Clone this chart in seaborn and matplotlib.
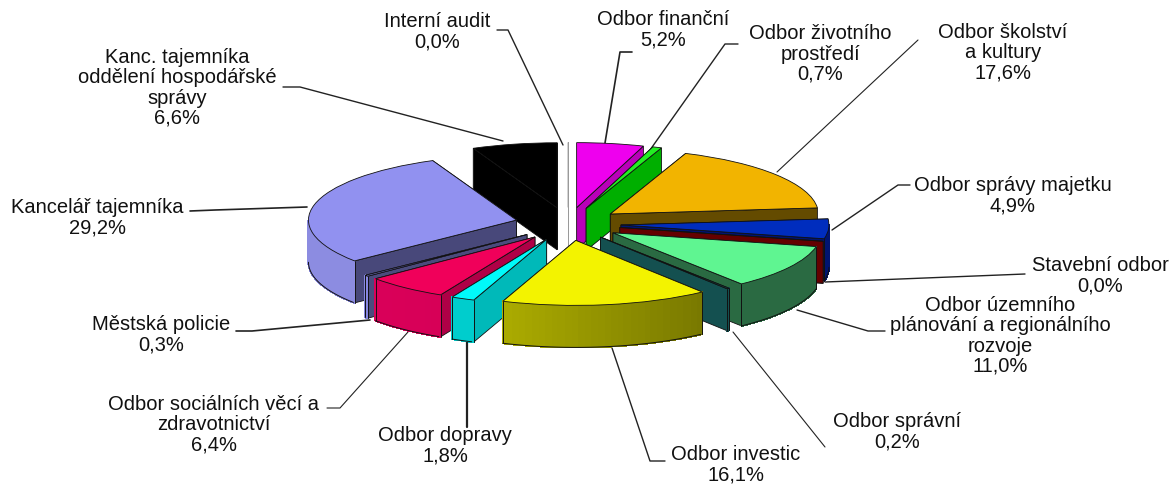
from matplotlib import pyplot as plt
from matplotlib import transforms
import numpy as np
import seaborn as sns

sns.set_theme(style='white')
plt.rcParams['font.family'] = ['Liberation Sans', 'DejaVu Sans']

W, H = 1174, 484

names = ['Interní audit', 'Odbor finanční', 'Odbor životního\nprostředí', 'Odbor školství\na kultury',
         'Odbor správy majetku', 'Stavební odbor', 'Odbor územního\nplánování a regionálního\nrozvoje',
         'Odbor správní', 'Odbor investic', 'Odbor dopravy', 'Odbor sociálních věcí a\nzdravotnictví',
         'Městská policie', 'Kancelář tajemníka', 'Kanc. tajemníka\noddělení hospodářské\nsprávy']
shares = [0.0, 5.2, 0.7, 17.6, 4.9, 0.0, 11.0, 0.2, 16.1, 1.8, 6.4, 0.3, 29.2, 6.6]

top_colors = ['#ffffff', '#ee00ee', '#22f022', '#f2b400', '#002dbe', '#780000', '#5ff591',
              '#195555', '#f3f300', '#00fafa', '#f0005a', '#6464b4', '#9191f0', '#000000']
cut_colors = ['#ffffff', '#b900b9', '#00af00', '#644b00', '#001470', '#640000', '#2a6a42',
              '#145050', '#8c8c00', '#00b9b9', '#af0046', '#4b4b7d', '#48487a', '#000000']
rim_left = ['#ffffff', '#b900b9', '#00af00', '#644b00', '#001470', '#640000', '#2a6a42',
            '#145050', '#cdcd00', '#00cdcd', '#dc005a', '#8787e1', '#8c8ce1', '#000000']
rim_right = ['#ffffff', '#b900b9', '#00af00', '#644b00', '#001470', '#640000', '#2a6a42',
             '#145050', '#646400', '#00cdcd', '#c80050', '#8787e1', '#8c8ce1', '#000000']

# label centres and leader lines, in pixels of the picture
label_xy = [(437, 32), (663, 30), (820, 54), (1003, 53), (1013, 196), (1100, 276), (1000, 336),
            (897, 432), (736, 465), (445, 446), (214, 425), (161, 335), (97, 218), (177, 88)]
leaders = [[(497, 30), (508, 30), (563, 145)],
           [(632, 52), (620, 52), (605, 143)],
           [(738, 44), (725, 44), (650, 150)],
           [(918, 40), (777, 172)],
           [(910, 185), (898, 185), (832, 230)],
           [(1025, 274), (825, 282)],
           [(885, 331), (868, 331), (797, 310)],
           [(825, 447), (733, 332)],
           [(665, 461), (650, 461), (612, 348)],
           [(467, 427), (467, 342)],
           [(327, 408), (340, 408), (408, 332)],
           [(236, 331), (252, 331), (370, 320)],
           [(190, 211), (215, 210), (307, 207)],
           [(283, 87), (300, 87), (503, 141)]]
leader_widths = [1, 1.2, 1, 0.8, 1, 1, 1, 0.8, 1, 1.6, 0.8, 1.2, 1.2, 1]

cx, cy = 568, 224      # pie centre
rx, ry = 208, 65       # ellipse of the tilted pie
depth = 42 / ry
gap = 0.255

fig = plt.figure(figsize=(W / 100, H / 100), dpi=100, facecolor='white')
ax = fig.add_axes([0, 0, 1, 1])
wedges, _ = ax.pie(shares, explode=[gap] * len(shares), colors=top_colors, startangle=90,
                   counterclock=False, wedgeprops={'edgecolor': '#111111', 'linewidth': 0.6})
ax.set_aspect('auto')

mids = np.radians([(w.theta1 + w.theta2) / 2 for w in wedges])
ranks = np.argsort(np.argsort(-np.sin(mids)))
line_kw = {'color': '#111111', 'linewidth': 0.7}

for i, w in enumerate(wedges):
    z = 10 + 5 * int(ranks[i])
    tx, ty = w.center
    t1, t2 = np.radians(w.theta1), np.radians(w.theta2)
    w.set_zorder(z + 3)
    if shares[i] == 0 and top_colors[i] == '#ffffff':
        w.set_edgecolor('#9a9a9a')

    # the two cut faces, the farther one first
    for k, t in enumerate(sorted([t1, t2], key=lambda a: -np.sin(a))):
        ex, ey = tx + np.cos(t), ty + np.sin(t)
        edge = '#9a9a9a' if top_colors[i] == '#ffffff' else '#111111'
        ax.fill([tx, ex, ex, tx], [ty, ey, ey - depth, ty - depth], facecolor=cut_colors[i],
                edgecolor=edge, linewidth=0.6, zorder=z + k)

    # outer rim on the side that faces the viewer
    if shares[i] > 0:
        t = np.linspace(t1, t2, max(int(np.degrees(t2 - t1) * 2), 2))
        x, y = tx + np.cos(t), ty + np.sin(t)
        front = np.sin((t[:-1] + t[1:]) / 2) < 0
        shades = sns.blend_palette([rim_left[i], rim_right[i]], n_colors=64)
        for j in np.nonzero(front)[0]:
            u = (np.cos((t[j] + t[j + 1]) / 2) + 1) / 2
            ax.fill([x[j], x[j + 1], x[j + 1], x[j]],
                    [y[j], y[j + 1], y[j + 1] - depth, y[j] - depth],
                    facecolor=shades[int(u * 63)], edgecolor=shades[int(u * 63)],
                    linewidth=0.8, antialiased=False, zorder=z + 2)
        if front.any():
            ax.plot(x[:-1][front], y[:-1][front] - depth, zorder=z + 2.5, **line_kw)
            for end in [0, -1]:
                if np.sin(t[end]) < 0:
                    ax.plot([x[end], x[end]], [y[end], y[end] - depth], zorder=z + 2.5, **line_kw)

# helper transform, pixels measured from the top left corner
px = transforms.Affine2D().scale(1 / W, -1 / H).translate(0, 1) + fig.transFigure

for name, share, (lx, ly), path, lw in zip(names, shares, label_xy, leaders, leader_widths):
    text = name + '\n' + f'{share:.1f}'.replace('.', ',') + '%'
    ax.text(lx, ly, text, transform=px, ha='center', va='center', fontsize=14.5,
            linespacing=1.08, color='#111111', zorder=200)
    xs, ys = zip(*path)
    ax.plot(xs, ys, transform=px, color='#222222', linewidth=lw, zorder=5, clip_on=False)

ax.set_xlim(-cx / rx, (W - cx) / rx)
ax.set_ylim((cy - H) / ry, cy / ry)
ax.axis('off')
fig.savefig('out.png', dpi=100, facecolor='white')
